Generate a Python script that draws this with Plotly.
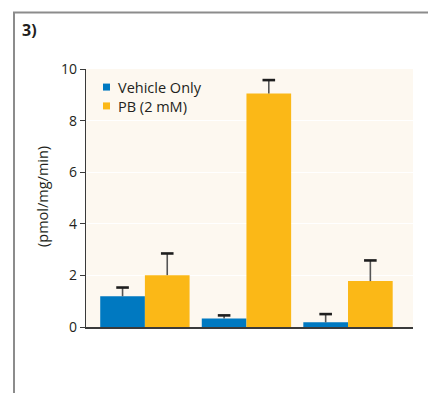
import plotly.graph_objects as go

# Data
groups = [0, 1, 2]
vehicle = [1.19, 0.33, 0.18]
vehicle_err = [0.34, 0.12, 0.32]
pb = [2.01, 9.05, 1.78]
pb_err = [0.84, 0.52, 0.80]
y_ticks = [0, 2, 4, 6, 8, 10]
series_names = ["Vehicle Only", "PB (2 mM)"]
panel_label = "3)"
y_title = "(pmol/mg/min)"

BLUE = "#0079c1"
GOLD = "#fbb817"
INK = "#231f20"
FONT = "Open Sans"
BAR_W = 0.44

W, H = 428, 393
L, R, T, B = 86, 15, 69, 66
pw, ph = W - L - R, H - T - B


def px(x):
    return (x - L) / pw


def py(y):
    return (H - B - y) / ph


fig = go.Figure()
series = [(vehicle, vehicle_err, BLUE, -BAR_W / 2), (pb, pb_err, GOLD, BAR_W / 2)]
for name, (vals, errs, col, off) in zip(series_names, series):
    xs = [g + off for g in groups]
    # bar with a one-sided (upward) error stem
    fig.add_trace(go.Bar(x=xs, y=vals, width=BAR_W, name=name, marker_color=col,
                         marker_line_width=0,
                         error_y=dict(type="data", array=errs, arrayminus=[0] * len(errs),
                                      symmetric=False, color="#555555", thickness=1.6, width=0)))
    # cap at the top of each error stem
    fig.add_trace(go.Scatter(x=xs, y=[v + e for v, e in zip(vals, errs)], mode="markers",
                             marker=dict(symbol="line-ew", size=9,
                                         line=dict(color="#1e1e1e", width=2.6)),
                             hoverinfo="skip", showlegend=False))

fig.update_layout(
    width=W, height=H,
    margin=dict(l=L, r=R, t=T, b=B, pad=0),
    paper_bgcolor="white",
    plot_bgcolor="#fdf8f0",
    barmode="overlay",
    showlegend=False,
    font=dict(family=FONT, color=INK, size=14),
    xaxis=dict(range=[-0.58, 2.64], showticklabels=False, ticks="", showgrid=False,
               zeroline=False, showline=True, linecolor="#3a3a3a", linewidth=2),
    yaxis=dict(range=[0, 10], tickvals=y_ticks, ticks="outside", ticklen=5, tickwidth=1,
               tickcolor="#3a3a3a", showline=True, linecolor="#3a3a3a", linewidth=1.2,
               showgrid=True, gridcolor="white", gridwidth=1, zeroline=False,
               tickfont=dict(size=14, family=FONT, color=INK)),
)

# Panel frame (top and left rules)
frame = dict(type="line", xref="paper", yref="paper", line=dict(color="#8c8c8c", width=2))
fig.add_shape(**frame, x0=px(13), x1=px(W), y0=py(12.5), y1=py(12.5))
fig.add_shape(**frame, x0=px(14), x1=px(14), y0=py(12.5), y1=py(H))

# Panel label
fig.add_annotation(text=f"<b>{panel_label}</b>", xref="paper", yref="paper",
                   x=px(20), y=py(30), xanchor="left", yanchor="middle",
                   showarrow=False, font=dict(size=16, family=FONT, color=INK))

# Y axis title
fig.add_annotation(text=y_title, xref="paper", yref="paper", x=px(42), y=py(197),
                   xanchor="center", yanchor="middle", textangle=-90, showarrow=False,
                   font=dict(size=14.5, family=FONT, color=INK))

# Legend: one two-line label block with a colour key beside each line
LEG_SIZE = 14.5
line_h = 1.3 * LEG_SIZE
leg_mid = 96.5
fig.add_annotation(text="<br>".join(series_names), xref="paper", yref="paper",
                   x=px(116), y=py(leg_mid), xanchor="left", yanchor="middle",
                   align="left", showarrow=False,
                   font=dict(size=LEG_SIZE, family=FONT, color=INK))
for i, col in enumerate([BLUE, GOLD]):
    yc = leg_mid + (i - 0.5) * line_h
    fig.add_shape(type="rect", xref="paper", yref="paper", x0=px(103), x1=px(110),
                  y0=py(yc + 3.5), y1=py(yc - 3.5), fillcolor=col, line_width=0)

fig.write_html("out.html")
